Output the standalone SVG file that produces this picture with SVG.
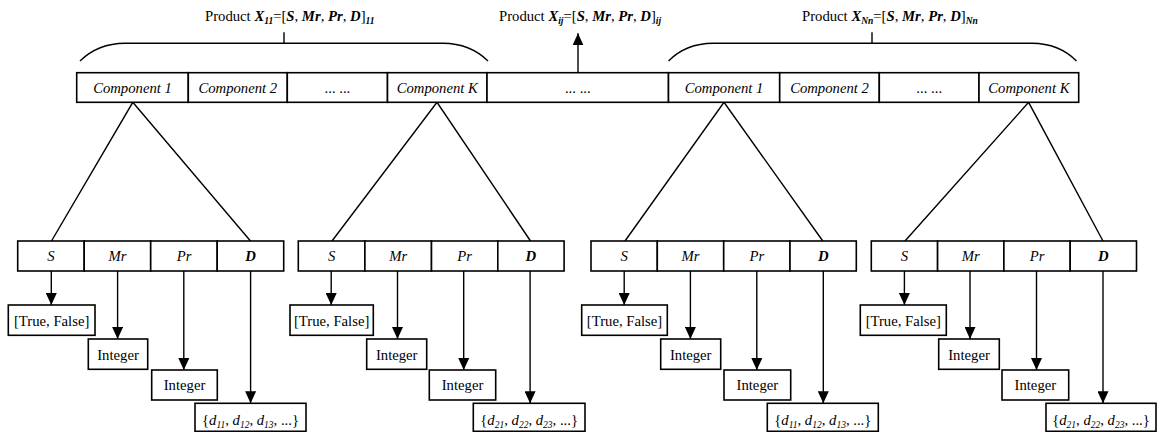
<svg xmlns="http://www.w3.org/2000/svg" width="1157" height="432" viewBox="0 0 1157 432">
<defs>
<style>
text{font-family:"Liberation Serif","Times New Roman",serif;font-size:14.7px;fill:#000}
.c{text-anchor:middle}
.i{font-style:italic}
.bi{font-style:italic;font-weight:bold}
.sub{font-size:9.5px}
.box{fill:#fff;stroke:#000;stroke-width:1.6}
.ln{stroke:#000;stroke-width:1.4;fill:none}
.ar{stroke:#000;stroke-width:1.4;fill:none;marker-end:url(#ah)}
</style>
<marker id="ah" markerWidth="12" markerHeight="11" refX="12" refY="5.5" orient="auto" markerUnits="userSpaceOnUse"><path d="M0,0L12,5.5L0,11z" fill="#000"/></marker>
</defs>
<rect width="1157" height="432" fill="#fff"/>

<g id="titles">
<text x="205" y="21">Product <tspan class="bi">X</tspan><tspan class="bi sub" dy="3">11</tspan><tspan dy="-3">=[</tspan><tspan class="bi">S</tspan>, <tspan class="bi">Mr</tspan>, <tspan class="bi">Pr</tspan>, <tspan class="bi">D</tspan>]<tspan class="bi sub" dy="3">11</tspan></text>
<text x="499" y="21">Product <tspan class="bi">X</tspan><tspan class="bi sub" dy="3">ij</tspan><tspan dy="-3">=[</tspan><tspan class="bi">S</tspan>, <tspan class="bi">Mr</tspan>, <tspan class="bi">Pr</tspan>, <tspan class="bi">D</tspan>]<tspan class="bi sub" dy="3">ij</tspan></text>
<text x="802" y="21">Product <tspan class="bi">X</tspan><tspan class="bi sub" dy="3">Nn</tspan><tspan dy="-3">=[</tspan><tspan class="bi">S</tspan>, <tspan class="bi">Mr</tspan>, <tspan class="bi">Pr</tspan>, <tspan class="bi">D</tspan>]<tspan class="bi sub" dy="3">Nn</tspan></text>
</g>

<g id="connectors">
<path class="ln" d="M80,61 Q98,43.5 125,43.3 H443 Q470,43.5 488,61"/>
<line class="ln" x1="284" y1="32.3" x2="284" y2="43.3"/>
<path class="ln" d="M668.5,61 Q686,43.5 713,43.3 H1032 Q1059,43.5 1076.5,61"/>
<line class="ln" x1="872" y1="32.3" x2="872" y2="43.3"/>
<line class="ar" x1="578" y1="72.7" x2="578" y2="33.3"/>

<path class="ln" d="M51.5,241 L132.8,102.3 L250.5,241"/>
<path class="ln" d="M332,241 L437,102.3 L530.5,241"/>
<path class="ln" d="M625,241 L724,102.3 L822.8,241"/>
<path class="ln" d="M905,241 L1028.6,102.3 L1103,241"/>

<line class="ar" x1="51.3" y1="271" x2="51.3" y2="305"/>
<line class="ar" x1="117.6" y1="271" x2="117.6" y2="339"/>
<line class="ar" x1="183.8" y1="271" x2="183.8" y2="370"/>
<line class="ar" x1="250.6" y1="271" x2="250.6" y2="403.3"/>

<line class="ar" x1="331.2" y1="271" x2="331.2" y2="305"/>
<line class="ar" x1="397.5" y1="271" x2="397.5" y2="339"/>
<line class="ar" x1="463.7" y1="271" x2="463.7" y2="370"/>
<line class="ar" x1="530.1" y1="271" x2="530.1" y2="403.3"/>

<line class="ar" x1="624.2" y1="271" x2="624.2" y2="305"/>
<line class="ar" x1="690.4" y1="271" x2="690.4" y2="339"/>
<line class="ar" x1="756.8" y1="271" x2="756.8" y2="370"/>
<line class="ar" x1="823.3" y1="271" x2="823.3" y2="403.3"/>

<line class="ar" x1="904.4" y1="271" x2="904.4" y2="305"/>
<line class="ar" x1="970" y1="271" x2="970" y2="339"/>
<line class="ar" x1="1036.5" y1="271" x2="1036.5" y2="370"/>
<line class="ar" x1="1103" y1="271" x2="1103" y2="403.3"/>
</g>

<g id="bar">
<g id="bar-c1"><rect class="box" x="76.7" y="72.7" width="111.6" height="29.6"/><text class="c i" x="132.5" y="92.7">Component 1</text></g>
<g id="bar-c2"><rect class="box" x="188.3" y="72.7" width="99" height="29.6"/><text class="c i" x="237.8" y="92.7">Component 2</text></g>
<g id="bar-c3"><rect class="box" x="287.3" y="72.7" width="100.2" height="29.6"/><text class="c" x="337.4" y="92.7">... ...</text></g>
<g id="bar-c4"><rect class="box" x="387.5" y="72.7" width="99.5" height="29.6"/><text class="c i" x="437.3" y="92.7">Component K</text></g>
<g id="bar-c5"><rect class="box" x="487" y="72.7" width="181.5" height="29.6"/><text class="c" x="577.8" y="92.7">... ...</text></g>
<g id="bar-c6"><rect class="box" x="668.5" y="72.7" width="111.2" height="29.6"/><text class="c i" x="724.1" y="92.7">Component 1</text></g>
<g id="bar-c7"><rect class="box" x="779.7" y="72.7" width="99.6" height="29.6"/><text class="c i" x="829.5" y="92.7">Component 2</text></g>
<g id="bar-c8"><rect class="box" x="879.3" y="72.7" width="99.7" height="29.6"/><text class="c" x="929.2" y="92.7">... ...</text></g>
<g id="bar-c9"><rect class="box" x="979" y="72.7" width="99.7" height="29.6"/><text class="c i" x="1028.9" y="92.7">Component K</text></g>
</g>

<g id="group1">
<g id="g1-S"><rect class="box" x="17.7" y="241" width="66.5" height="30"/><text class="c i" x="51" y="261">S</text></g>
<g id="g1-Mr"><rect class="box" x="84.2" y="241" width="66.5" height="30"/><text class="c i" x="117.5" y="261">Mr</text></g>
<g id="g1-Pr"><rect class="box" x="150.7" y="241" width="66.5" height="30"/><text class="c i" x="184" y="261">Pr</text></g>
<g id="g1-D"><rect class="box" x="217.2" y="241" width="66.5" height="30"/><text class="c bi" x="250.5" y="261">D</text></g>
<g id="g1-tf"><rect class="box" x="8.3" y="305" width="86.7" height="30.3"/><text class="c" x="51.65" y="325.5">[True, False]</text></g>
<g id="g1-int1"><rect class="box" x="88.3" y="339" width="59.4" height="30.3"/><text class="c" x="118" y="359.8">Integer</text></g>
<g id="g1-int2"><rect class="box" x="151.7" y="370" width="65.6" height="30"/><text class="c" x="184.5" y="390">Integer</text></g>
<g id="g1-d"><rect class="box" x="195" y="403.3" width="111" height="28"/><text class="c" x="250.5" y="424.5">{<tspan class="i">d</tspan><tspan class="i sub" dy="3">11</tspan><tspan dy="-3">, </tspan><tspan class="i">d</tspan><tspan class="i sub" dy="3">12</tspan><tspan dy="-3">, </tspan><tspan class="i">d</tspan><tspan class="i sub" dy="3">13</tspan><tspan dy="-3">, ...}</tspan></text></g>
</g>

<g id="group2">
<g id="g2-S"><rect class="box" x="298.3" y="241" width="66.6" height="30"/><text class="c i" x="331.6" y="261">S</text></g>
<g id="g2-Mr"><rect class="box" x="364.9" y="241" width="66.6" height="30"/><text class="c i" x="398.2" y="261">Mr</text></g>
<g id="g2-Pr"><rect class="box" x="431.5" y="241" width="66.3" height="30"/><text class="c i" x="464.6" y="261">Pr</text></g>
<g id="g2-D"><rect class="box" x="497.8" y="241" width="66.3" height="30"/><text class="c bi" x="530.9" y="261">D</text></g>
<g id="g2-tf"><rect class="box" x="290" y="305" width="83.3" height="30.3"/><text class="c" x="331.65" y="325.5">[True, False]</text></g>
<g id="g2-int1"><rect class="box" x="366.7" y="339" width="60" height="30.3"/><text class="c" x="396.7" y="359.8">Integer</text></g>
<g id="g2-int2"><rect class="box" x="429.3" y="370" width="66.4" height="30"/><text class="c" x="462.5" y="390">Integer</text></g>
<g id="g2-d"><rect class="box" x="473.3" y="403.3" width="111.7" height="28"/><text class="c" x="529.15" y="424.5">{<tspan class="i">d</tspan><tspan class="i sub" dy="3">21</tspan><tspan dy="-3">, </tspan><tspan class="i">d</tspan><tspan class="i sub" dy="3">22</tspan><tspan dy="-3">, </tspan><tspan class="i">d</tspan><tspan class="i sub" dy="3">23</tspan><tspan dy="-3">, ...}</tspan></text></g>
</g>

<g id="group3">
<g id="g3-S"><rect class="box" x="591" y="241" width="66.3" height="30"/><text class="c i" x="624.2" y="261">S</text></g>
<g id="g3-Mr"><rect class="box" x="657.3" y="241" width="66.4" height="30"/><text class="c i" x="690.5" y="261">Mr</text></g>
<g id="g3-Pr"><rect class="box" x="723.7" y="241" width="66.3" height="30"/><text class="c i" x="756.9" y="261">Pr</text></g>
<g id="g3-D"><rect class="box" x="790" y="241" width="66.3" height="30"/><text class="c bi" x="823.2" y="261">D</text></g>
<g id="g3-tf"><rect class="box" x="581.7" y="305" width="85.6" height="30.3"/><text class="c" x="624.5" y="325.5">[True, False]</text></g>
<g id="g3-int1"><rect class="box" x="660.7" y="339" width="60" height="30.3"/><text class="c" x="690.7" y="359.8">Integer</text></g>
<g id="g3-int2"><rect class="box" x="724" y="370" width="66.7" height="30"/><text class="c" x="757.35" y="390">Integer</text></g>
<g id="g3-d"><rect class="box" x="767.3" y="403.3" width="111" height="28"/><text class="c" x="822.8" y="424.5">{<tspan class="i">d</tspan><tspan class="i sub" dy="3">11</tspan><tspan dy="-3">, </tspan><tspan class="i">d</tspan><tspan class="i sub" dy="3">12</tspan><tspan dy="-3">, </tspan><tspan class="i">d</tspan><tspan class="i sub" dy="3">13</tspan><tspan dy="-3">, ...}</tspan></text></g>
</g>

<g id="group4">
<g id="g4-S"><rect class="box" x="871.3" y="241" width="66.3" height="30"/><text class="c i" x="904.5" y="261">S</text></g>
<g id="g4-Mr"><rect class="box" x="937.6" y="241" width="66.3" height="30"/><text class="c i" x="970.8" y="261">Mr</text></g>
<g id="g4-Pr"><rect class="box" x="1003.9" y="241" width="66.3" height="30"/><text class="c i" x="1037" y="261">Pr</text></g>
<g id="g4-D"><rect class="box" x="1070.2" y="241" width="66.3" height="30"/><text class="c bi" x="1103.3" y="261">D</text></g>
<g id="g4-tf"><rect class="box" x="860.3" y="305" width="86" height="30.3"/><text class="c" x="903.3" y="325.5">[True, False]</text></g>
<g id="g4-int1"><rect class="box" x="938.7" y="339" width="60.6" height="30.3"/><text class="c" x="969" y="359.8">Integer</text></g>
<g id="g4-int2"><rect class="box" x="1002" y="370" width="66.7" height="30"/><text class="c" x="1035.35" y="390">Integer</text></g>
<g id="g4-d"><rect class="box" x="1046" y="403.3" width="110" height="28"/><text class="c" x="1101" y="424.5">{<tspan class="i">d</tspan><tspan class="i sub" dy="3">21</tspan><tspan dy="-3">, </tspan><tspan class="i">d</tspan><tspan class="i sub" dy="3">22</tspan><tspan dy="-3">, </tspan><tspan class="i">d</tspan><tspan class="i sub" dy="3">23</tspan><tspan dy="-3">, ...}</tspan></text></g>
</g>
</svg>
